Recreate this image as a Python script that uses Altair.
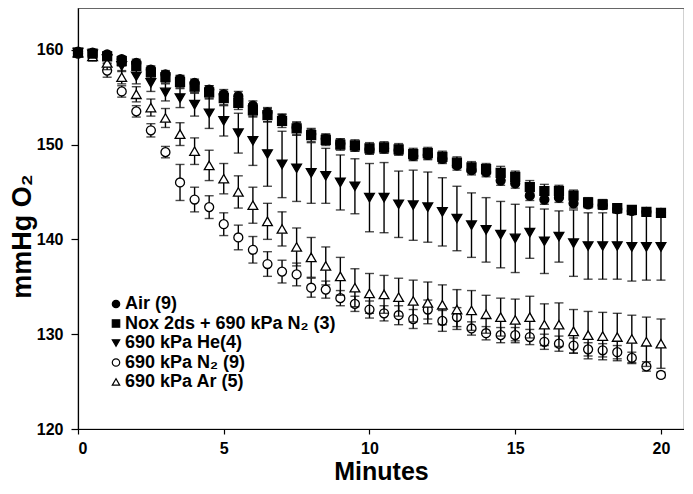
import altair as alt
import pandas as pd

minutes = [0, 0.5, 1, 1.5, 2, 2.5, 3, 3.5, 4, 4.5, 5, 5.5, 6, 6.5, 7, 7.5, 8, 8.5, 9, 9.5,
           10, 10.5, 11, 11.5, 12, 12.5, 13, 13.5, 14, 14.5, 15, 15.5, 16, 16.5, 17, 17.5,
           18, 18.5, 19, 19.5, 20]

series_names = ["Air (9)", "Nox 2ds + 690 kPa N\u2082 (3)", "690 kPa He(4)",
                "690 kPa N\u2082 (9)", "690 kPa Ar (5)"]
series_shapes = ["circle", "square", "triangle-down", "circle", "triangle-up"]
series_fills = ["black", "black", "black", "white", "white"]
series_strokes = ["black", "black", "black", "black", "black"]
draw_order = [2, 3, 4, 1, 0]

air = [159.8, 159.7, 159.5, 159.0, 158.6, 157.9, 157.4, 156.9, 156.5, 155.8, 155.3, 155.1,
       154.1, 153.4, 152.7, 151.8, 151.1, 150.6, 150.1, 149.8, 149.5, 149.6, 149.4, 148.8,
       148.9, 148.5, 147.8, 147.3, 147.1, 146.2, 145.9, 144.6, 144.2, 144.4, 143.8, 143.7,
       143.6, 143.2, 143.0, 142.9, 142.8]
air_err = [0.2, 0.2, 0.3, 0.3, 0.4, 0.4, 0.4, 0.4, 0.4, 0.4, 0.5, 0.5, 0.5, 0.5, 0.5, 0.5,
           0.5, 0.5, 0.5, 0.5, 0.5, 0.5, 0.5, 0.5, 0.5, 0.5, 0.5, 0.5, 0.5, 0.5, 0.5, 0.5,
           0.5, 0.5, 0.5, 0.4, 0.4, 0.4, 0.4, 0.4, 0.4]

nox = [159.7, 159.6, 159.3, 158.8, 158.3, 157.6, 157.1, 156.6, 156.1, 155.5, 154.9, 154.4,
       153.6, 153.1, 152.5, 151.7, 151.0, 150.5, 150.0, 149.9, 149.6, 149.7, 149.5, 149.0,
       149.1, 148.7, 148.1, 147.6, 147.4, 147.0, 146.6, 145.5, 145.1, 145.1, 144.6, 143.9,
       143.7, 143.3, 143.1, 142.9, 142.8]
nox_err = [0.2, 0.3, 0.4, 0.5, 0.5, 0.6, 0.6, 0.6, 0.6, 0.7, 0.7, 0.7, 0.7, 0.7, 0.7, 0.7,
           0.7, 0.6, 0.6, 0.6, 0.6, 0.6, 0.6, 0.6, 0.6, 0.6, 0.6, 0.6, 0.6, 0.7, 0.6, 0.7,
           0.7, 0.6, 0.6, 0.5, 0.5, 0.4, 0.4, 0.4, 0.4]

he = [159.7, 159.5, 159.0, 158.3, 157.2, 156.5, 155.5, 154.9, 154.2, 153.3, 152.5, 151.2,
      150.4, 149.0, 147.9, 147.5, 147.0, 146.7, 146.0, 145.6, 144.4, 144.4, 143.7, 143.6,
      143.4, 142.9, 142.2, 141.5, 141.0, 140.5, 140.1, 140.7, 139.8, 140.3, 139.6, 139.3,
      139.3, 139.3, 139.2, 139.2, 139.2]
he_err = [0.2, 0.3, 0.4, 0.6, 0.8, 0.9, 0.9, 1.0, 1.2, 1.6, 1.6, 2.1, 2.6, 3.4, 3.5, 3.5,
          3.2, 2.9, 2.9, 2.9, 3.6, 3.7, 3.5, 3.7, 3.7, 3.6, 3.4, 3.4, 3.4, 3.5, 3.6, 2.7,
          3.4, 2.7, 3.5, 3.5, 3.5, 3.5, 3.6, 3.5, 3.5]

n2 = [159.6, 159.4, 157.8, 155.6, 153.5, 151.5, 149.2, 146.0, 144.2, 143.4, 141.6, 140.2,
      138.9, 137.4, 136.6, 136.3, 134.9, 134.7, 133.8, 133.2, 132.6, 132.2, 132.0, 131.6,
      132.6, 131.4, 131.8, 130.6, 130.1, 129.9, 129.9, 129.7, 129.2, 129.0, 128.8, 128.4,
      128.3, 128.1, 127.5, 126.6, 125.7]
n2_err = [0.2, 0.4, 0.7, 0.6, 0.6, 0.7, 0.6, 1.9, 1.3, 1.2, 1.2, 1.3, 1.4, 1.3, 1.2, 1.2,
          1.0, 0.9, 0.8, 0.8, 0.9, 0.8, 1.0, 1.0, 1.0, 1.1, 1.0, 0.7, 0.7, 0.8, 0.8, 0.8,
          0.8, 0.8, 0.8, 0.7, 0.7, 0.7, 0.6, 0.5, 0.3]

ar = [159.7, 159.3, 158.6, 157.1, 155.3, 153.9, 152.8, 151.1, 149.3, 147.8, 146.4, 145.0,
      143.6, 141.9, 141.1, 139.2, 138.1, 137.2, 136.1, 134.9, 134.3, 134.2, 133.9, 133.5,
      133.3, 133.1, 132.6, 132.5, 132.1, 131.8, 131.5, 131.8, 131.0, 131.0, 130.3, 129.9,
      129.8, 129.7, 129.5, 129.2, 129.0]
ar_err = [0.2, 0.5, 0.7, 0.7, 0.8, 0.9, 1.0, 1.2, 1.4, 1.6, 1.6, 1.7, 1.9, 1.9, 1.8, 2.0,
          2.1, 2.0, 2.0, 2.0, 2.1, 2.0, 2.0, 2.2, 2.2, 2.1, 2.1, 2.1, 2.0, 2.0, 2.2, 2.2,
          2.2, 2.3, 2.3, 2.5, 2.5, 2.5, 2.5, 2.6, 2.6]

means = [air, nox, he, n2, ar]
errs = [air_err, nox_err, he_err, n2_err, ar_err]

rows = []
for name, m, e in zip(series_names, means, errs):
    for t, v, s in zip(minutes, m, e):
        rows.append({"t": t, "series": name, "mean": v, "lo": v - s, "hi": v + s})
df = pd.DataFrame(rows)

xscale = alt.Scale(domain=[0, 20.79], nice=False, zero=False)
yscale = alt.Scale(domain=[120, 164.4], nice=False, zero=False)
font = "Liberation Sans"

x_axis = alt.Axis(values=[0, 5, 10, 15, 20], title="Minutes", grid=False,
                  tickSize=5, labelPadding=6, titlePadding=3,
                  labelFont=font, labelFontSize=16, labelFontWeight="bold",
                  titleFont=font, titleFontSize=25, titleFontWeight="bold",
                  labelColor="black", titleColor="black",
                  domainColor="black", tickColor="black", domainWidth=1.2, tickWidth=1.2)
y_axis = alt.Axis(values=[120, 130, 140, 150, 160], title="mmHg O\u2082", grid=False,
                  tickSize=7, labelPadding=8, titleX=-42, titleY=228,
                  labelFont=font, labelFontSize=16, labelFontWeight="bold",
                  titleFont=font, titleFontSize=27, titleFontWeight="bold",
                  labelColor="black", titleColor="black",
                  domainColor="black", tickColor="black", domainWidth=1.2, tickWidth=1.2)

legend = alt.Legend(title=None, orient="none", legendX=29, legendY=287,
                    values=series_names, symbolSize=55, labelOffset=0,
                    labelFontSize=18, rowPadding=1.5)
shape_enc = alt.Shape("series:N", scale=alt.Scale(domain=series_names, range=series_shapes),
                      legend=legend)
fill_enc = alt.Fill("series:N", scale=alt.Scale(domain=series_names, range=series_fills),
                    legend=legend)
stroke_enc = alt.Stroke("series:N", scale=alt.Scale(domain=series_names, range=series_strokes),
                        legend=legend)

X = lambda f: alt.X(f, type="quantitative", scale=xscale, axis=x_axis)
Y = lambda f: alt.Y(f, type="quantitative", scale=yscale, axis=y_axis)

layers = []
base = alt.Chart(df)
for i in draw_order:
    name = series_names[i]
    sub = base.transform_filter(alt.datum.series == name)
    rule = sub.mark_rule(color="black", strokeWidth=1.4).encode(
        x=X("t"), y=Y("lo"), y2="hi:Q")
    cap_lo = sub.mark_tick(orient="horizontal", color="black", size=9, thickness=1.4).encode(
        x=X("t"), y=Y("lo"))
    cap_hi = sub.mark_tick(orient="horizontal", color="black", size=9, thickness=1.4).encode(
        x=X("t"), y=Y("hi"))
    size = 95 if "triangle" in series_shapes[i] else 80
    pts = sub.mark_point(filled=False, strokeWidth=1.3, opacity=1, size=size).encode(
        x=X("t"), y=Y("mean"), shape=shape_enc, fill=fill_enc, stroke=stroke_enc)
    layers += [rule, cap_lo, cap_hi, pts]

chart = alt.layer(*layers).properties(
    width=606, height=421, padding=0, background="white"
).configure_view(
    stroke="#666666", strokeWidth=1.2
).configure_legend(
    labelFont=font, labelFontSize=18, labelFontWeight="bold", labelColor="black",
    symbolSize=55, symbolStrokeColor="black", symbolStrokeWidth=1.2,
    rowPadding=1.5, padding=0, labelLimit=400
)

chart.save("out.html", embed_options={"renderer": "svg", "actions": False})
